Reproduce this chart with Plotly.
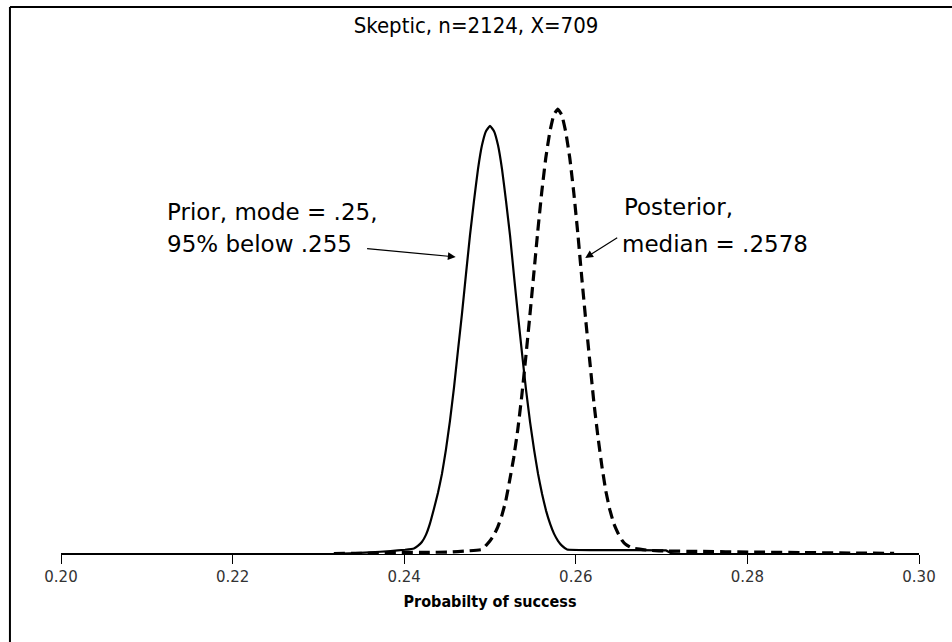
import plotly.graph_objects as go

# ---- data ----
prior_x = [0.2000, 0.2317, 0.2337, 0.2360, 0.2384, 0.2401,
           0.24113, 0.24159, 0.24206, 0.24253, 0.24299, 0.24346, 0.24393, 0.24440,
           0.24486, 0.24533, 0.24580, 0.24626, 0.24673, 0.24720, 0.24766, 0.24813,
           0.24860, 0.24907, 0.24953, 0.25000, 0.25047, 0.25093, 0.25140, 0.25187,
           0.25234, 0.25280, 0.25327, 0.25374, 0.25420, 0.25467, 0.25514, 0.25560,
           0.25607, 0.25654, 0.25701, 0.25747, 0.25794, 0.25841, 0.25899,
           0.2629, 0.2705, 0.2711, 0.2722, 0.3000]
prior_y = [0.0, 0.0, 0.2, 0.5, 0.9, 1.3,
           1.7, 2.5, 3.7, 5.9, 9.3, 13.9, 18.8, 24.7,
           32.1, 41.0, 51.2, 62.6, 74.0, 86.3, 98.1, 108.8,
           118.7, 126.1, 130.4, 132.0, 130.4, 126.1, 118.7, 108.8,
           98.1, 85.7, 73.4, 61.7, 50.6, 40.7, 32.1, 24.7,
           18.5, 13.3, 9.3, 6.2, 4.0, 2.5, 1.4,
           1.2, 1.1, 0.3, 0.0, 0.0]

post_x = [0.2318, 0.2349, 0.2372, 0.2395, 0.2424, 0.2454, 0.2471, 0.2491,
          0.24949, 0.24996, 0.25043, 0.25090, 0.25136, 0.25183, 0.25230, 0.25276,
          0.25323, 0.25370, 0.25416, 0.25463, 0.25510, 0.25556, 0.25603, 0.25650,
          0.25697, 0.25743, 0.25790, 0.25837, 0.25883, 0.25930, 0.25977, 0.26024,
          0.26070, 0.26117, 0.26164, 0.26210, 0.26257, 0.26304, 0.26350, 0.26397,
          0.26444, 0.26491, 0.26537, 0.26584, 0.26631, 0.26677,
          0.2687, 0.2707, 0.2745, 0.2804, 0.2862, 0.2921, 0.2971]
post_y = [0.15, 0.2, 0.3, 0.5, 0.5, 0.6, 0.9, 1.4,
          2.5, 3.9, 5.7, 8.3, 11.7, 16.3, 22.8, 29.6,
          38.2, 48.7, 60.4, 73.1, 86.3, 99.3, 111.6, 122.1,
          130.1, 135.4, 137.2, 135.4, 130.1, 122.1, 111.3, 98.7,
          85.1, 71.8, 59.2, 46.9, 36.4, 27.1, 19.4, 13.6,
          9.3, 6.5, 4.3, 2.9, 2.2, 1.7,
          1.1, 0.9, 0.8, 0.6, 0.45, 0.3, 0.2]

x_ticks = [0.20, 0.22, 0.24, 0.26, 0.28, 0.30]
x_tick_labels = ["0.20", "0.22", "0.24", "0.26", "0.28", "0.30"]

title_text = "Skeptic, n=2124, X=709"
x_title = "Probabilty of success"
prior_label = ["Prior, mode = .25,", "95% below .255"]
post_label = ["Posterior,", "median = .2578"]

# ---- figure ----
fig = go.Figure()
fig.add_trace(go.Scatter(x=prior_x, y=prior_y, mode="lines",
                         line=dict(color="black", width=2.2, shape="spline", smoothing=0.3),
                         showlegend=False, hoverinfo="skip"))
fig.add_trace(go.Scatter(x=post_x, y=post_y, mode="lines",
                         line=dict(color="black", width=3.2, dash="11px,6px",
                                   shape="spline", smoothing=0.3),
                         showlegend=False, hoverinfo="skip"))

ann_font = dict(family="DejaVu Sans, Verdana, sans-serif", size=23, color="black")
annotations = [
    dict(x=0.21210, y=105.5, text=prior_label[0], showarrow=False, xanchor="left", yanchor="middle", font=ann_font),
    dict(x=0.21210, y=95.6, text=prior_label[1], showarrow=False, xanchor="left", yanchor="middle", font=ann_font),
    dict(x=0.26540, y=107.0, text=post_label[0], showarrow=False, xanchor="left", yanchor="middle", font=ann_font),
    dict(x=0.26520, y=95.6, text=post_label[1], showarrow=False, xanchor="left", yanchor="middle", font=ann_font),
    # arrows
    dict(x=0.2460, y=91.6, ax=0.2355, ay=94.2, axref="x", ayref="y", text="",
         showarrow=True, arrowhead=2, arrowsize=1.3, arrowwidth=1.2, arrowcolor="black"),
    dict(x=0.2611, y=91.3, ax=0.2650, ay=97.8, axref="x", ayref="y", text="",
         showarrow=True, arrowhead=2, arrowsize=1.3, arrowwidth=1.2, arrowcolor="black"),
]

fig.update_layout(
    width=952, height=642,
    margin=dict(l=61, r=33, t=100, b=88),
    paper_bgcolor="white", plot_bgcolor="white",
    title=dict(text=title_text, x=0.5, xanchor="center", y=1 - 25 / 642, yanchor="middle",
               font=dict(family="DejaVu Sans Condensed, DejaVu Sans, sans-serif", size=22, color="black")),
    annotations=annotations,
    shapes=[
        dict(type="line", xref="paper", yref="paper", x0=-0.0595, x1=-0.0595, y0=1.2048, y1=-0.25,
             line=dict(color="black", width=2)),
        dict(type="line", xref="paper", yref="paper", x0=-0.0595, x1=1.1, y0=1.2048, y1=1.2048,
             line=dict(color="black", width=2)),
    ],
)
fig.update_xaxes(range=[0.2, 0.3], tickvals=x_ticks, ticktext=x_tick_labels,
                 showline=True, linecolor="black", linewidth=1, ticks="outside",
                 ticklen=9, tickcolor="black", tickwidth=1, showgrid=False, zeroline=False,
                 tickfont=dict(family="DejaVu Sans, sans-serif", size=15, color="#333"),
                 title=dict(text="<b>" + x_title + "</b>", standoff=10,
                            font=dict(family="DejaVu Sans Condensed, DejaVu Sans, sans-serif", size=16, color="black")))
fig.update_yaxes(range=[0, 140], visible=False)

fig.write_html("out.html")
